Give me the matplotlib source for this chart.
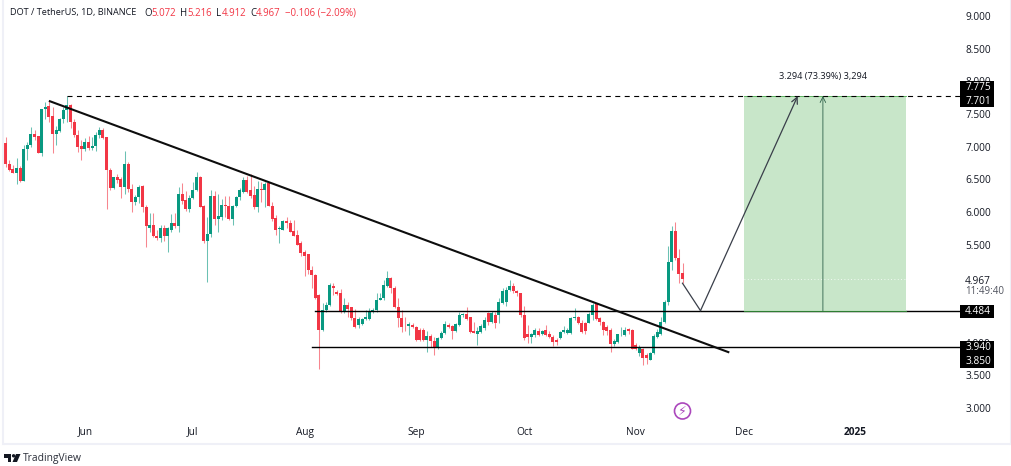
import matplotlib
matplotlib.use("Agg")
import matplotlib.pyplot as plt
import matplotlib.dates as mdates
import matplotlib.patches as mpatches
from matplotlib.transforms import Affine2D
import pandas as pd

# daily candles, first candle 2024-05-10
first_day = "2024-05-10"
opens = [7.05,6.74,6.66,6.60,6.68,6.48,6.96,7.03,7.20,7.16,
         6.91,7.58,7.62,7.47,7.19,7.24,7.43,7.56,7.64,7.37,
         7.18,7.01,6.97,7.07,6.98,7.01,7.18,7.25,7.15,6.65,
         6.37,6.53,6.50,6.38,6.74,6.35,6.16,6.23,6.40,6.08,
         5.76,5.80,5.63,5.60,5.75,5.63,5.72,5.83,5.79,6.28,
         6.18,6.05,6.22,6.33,6.54,6.09,5.55,5.67,6.24,5.90,
         5.93,6.11,6.09,5.89,6.09,6.23,6.31,6.49,6.33,6.26,
         6.08,6.35,6.33,6.44,6.09,5.91,5.74,5.73,5.86,5.83,
         5.71,5.65,5.53,5.39,5.35,5.11,5.03,4.73,4.19,4.50,
         4.58,4.87,4.77,4.755,4.47,4.58,4.54,4.37,4.27,4.28,
         4.36,4.36,4.47,4.50,4.66,4.68,4.86,4.985,4.83,4.55,
         4.37,4.26,4.25,4.27,4.245,4.20,4.20,4.04,4.10,4.025,
         3.93,4.07,4.15,4.27,4.255,4.18,4.27,4.42,4.44,4.39,
         4.18,4.14,4.17,4.23,4.46,4.31,4.42,4.42,4.61,4.63,
         4.805,4.87,4.79,4.765,4.42,4.14,4.09,4.12,4.18,4.13,
         4.195,4.13,4.09,4.04,4.07,4.17,4.15,4.15,4.37,4.40,
         4.305,4.305,4.305,4.42,4.60,4.37,4.32,4.24,4.20,3.98,
         4.01,4.13,4.12,4.21,4.20,3.96,3.84,3.91,3.81,3.74,
         3.84,4.09,4.14,4.32,4.63,5.24,5.71,5.30,5.072]
highs = [7.15,6.80,6.72,6.82,6.70,7.02,7.07,7.30,7.26,7.17,
         7.58,7.68,7.70,7.60,7.32,7.44,7.60,7.775,7.65,7.42,
         7.25,7.10,7.14,7.16,7.15,7.23,7.30,7.28,7.15,6.68,
         6.53,6.58,6.53,6.93,6.76,6.43,6.26,6.42,6.41,6.10,
         5.98,5.98,5.72,5.80,5.80,5.77,5.97,5.98,6.38,6.44,
         6.32,6.26,6.46,6.61,6.55,6.10,5.92,6.33,6.32,6.28,
         6.20,6.25,6.25,6.10,6.25,6.37,6.54,6.55,6.58,6.40,
         6.47,6.46,6.46,6.45,6.15,5.95,5.78,5.88,5.92,5.87,
         5.88,5.72,5.55,5.42,5.36,5.18,5.05,4.75,4.60,4.63,
         4.91,4.92,4.81,4.82,4.68,4.63,4.55,4.52,4.39,4.37,
         4.50,4.525,4.525,4.755,4.755,4.96,5.10,5.01,4.86,4.68,
         4.50,4.40,4.32,4.295,4.255,4.22,4.22,4.18,4.13,4.08,
         4.09,4.18,4.33,4.295,4.27,4.295,4.475,4.46,4.55,4.40,
         4.32,4.245,4.285,4.39,4.475,4.49,4.475,4.68,4.83,4.85,
         4.96,4.92,4.81,4.765,4.56,4.27,4.15,4.22,4.22,4.20,
         4.27,4.18,4.12,4.07,4.18,4.255,4.22,4.40,4.525,4.41,
         4.35,4.32,4.475,4.61,4.61,4.39,4.33,4.27,4.22,4.05,
         4.14,4.24,4.24,4.22,4.21,3.99,3.96,3.92,3.84,3.86,
         4.13,4.21,4.39,4.65,5.48,5.785,5.84,5.43,5.216]
lows = [6.69,6.62,6.60,6.43,6.46,6.47,6.80,7.00,7.10,6.90,
        6.85,7.42,7.38,6.90,7.02,7.22,7.36,7.38,7.28,7.15,
        6.92,6.80,6.93,6.95,6.95,6.94,7.14,7.12,6.05,6.34,
        6.35,6.45,6.22,6.28,6.30,6.00,6.10,6.14,6.00,5.47,
        5.70,5.62,5.57,5.54,5.55,5.39,5.70,5.76,5.70,6.12,
        6.02,6.00,6.20,6.32,6.08,5.53,4.93,5.62,5.80,5.70,
        5.88,5.92,5.88,5.80,6.08,6.19,6.29,6.29,6.22,6.05,
        6.00,6.15,6.08,6.09,5.86,5.65,5.53,5.72,5.75,5.69,
        5.64,5.49,5.33,5.02,5.05,4.83,4.67,3.59,4.18,4.47,
        4.56,4.73,4.73,4.45,4.45,4.40,4.35,4.22,4.22,4.27,
        4.35,4.35,4.45,4.475,4.65,4.66,4.85,4.755,4.525,4.245,
        4.17,4.18,4.11,4.22,4.025,4.025,4.025,3.86,3.94,3.81,
        3.91,4.05,4.13,4.22,4.05,4.17,4.26,4.40,4.35,4.15,
        4.15,3.97,4.15,4.195,4.27,4.295,4.22,4.295,4.59,4.56,
        4.79,4.755,4.71,4.40,4.04,3.99,3.99,4.08,4.10,4.11,
        4.10,4.07,3.95,3.96,4.05,4.15,4.14,4.13,4.35,4.285,
        4.15,4.14,4.295,4.35,4.35,4.27,4.12,4.11,3.85,3.95,
        4.00,4.10,4.10,4.14,3.90,3.89,3.80,3.66,3.67,3.73,
        3.82,4.07,4.12,4.30,4.58,5.11,5.27,4.92,4.912]
closes = [6.74,6.65,6.60,6.67,6.48,6.96,7.03,7.20,7.15,6.91,
          7.58,7.61,7.46,7.19,7.25,7.43,7.56,7.64,7.37,7.18,
          7.00,6.97,7.07,6.98,7.01,7.18,7.25,7.14,6.65,6.36,
          6.53,6.49,6.38,6.74,6.35,6.16,6.23,6.39,6.07,5.78,
          5.80,5.63,5.60,5.75,5.63,5.75,5.83,5.79,6.28,6.17,
          6.05,6.22,6.34,6.53,6.08,5.55,5.67,6.24,5.90,5.94,
          6.11,6.09,5.89,6.09,6.23,6.33,6.49,6.31,6.25,6.08,
          6.35,6.34,6.43,6.09,5.90,5.73,5.76,5.86,5.83,5.70,
          5.64,5.49,5.37,5.33,5.11,5.03,4.68,4.19,4.50,4.58,
          4.88,4.83,4.74,4.47,4.58,4.52,4.37,4.245,4.36,4.36,
          4.39,4.47,4.50,4.66,4.69,4.88,4.985,4.83,4.55,4.37,
          4.245,4.25,4.28,4.245,4.04,4.04,4.04,4.10,4.025,3.94,
          4.07,4.15,4.285,4.245,4.18,4.285,4.42,4.44,4.36,4.17,
          4.15,4.18,4.255,4.34,4.32,4.46,4.295,4.63,4.795,4.805,
          4.87,4.795,4.755,4.42,4.07,4.08,4.13,4.195,4.12,4.18,
          4.12,4.08,4.015,4.01,4.17,4.20,4.195,4.37,4.39,4.295,
          4.17,4.18,4.44,4.575,4.36,4.32,4.19,4.18,3.98,4.03,
          4.13,4.14,4.19,4.18,3.91,3.90,3.94,3.77,3.76,3.84,
          4.10,4.17,4.32,4.63,5.24,5.71,5.29,5.05,4.967]

# drawings on the chart
trend_dates = ["2024-05-22", "2024-11-27"]
trend_prices = [7.701, 3.85]
top_date = "2024-05-27"
line_end = "2025-01-30"
top_price = 7.775
support_price = 4.484
support_start = "2024-08-04"
low_price = 3.94
low_start = "2024-08-03"
box_dates = ["2024-12-01", "2025-01-15"]
box_mid = "2024-12-23"
path_dates = ["2024-11-14", "2024-11-19"]
path_prices = [4.91, 4.49]
path_tip = ("2024-12-16", 7.775)
last_price = 4.967

price_ticks = [3.0, 3.5, 4.0, 4.5, 5.5, 6.0, 6.5, 7.0, 7.5, 8.0, 8.5, 9.0]
month_ticks = ["2024-06-01", "2024-07-01", "2024-08-01", "2024-09-01", "2024-10-01", "2024-11-01", "2024-12-01", "2025-01-01"]
month_names = ["Jun", "Jul", "Aug", "Sep", "Oct", "Nov", "Dec", "2025"]

UP = "#089981"
DOWN = "#f23645"
TXT = "#131722"
FONT = ["Open Sans", "DejaVu Sans"]
plt.rcParams["font.family"] = FONT

fig = plt.figure(figsize=(10.12, 4.66), dpi=100)
# helper: picture pixels, y going down
px = Affine2D().scale(1 / 1012, -1 / 466).translate(0, 1) + fig.transFigure

ax = fig.add_axes([3.5 / 1012, (466 - 444) / 466, (1011 - 3.5) / 1012, 444 / 466])
days = mdates.date2num(pd.date_range(first_day, periods=len(closes)))
day0 = days[0]
ax.set_xlim(day0 + (3.5 - 5.7) / 3.6, day0 + (1011 - 5.7) / 3.6)
ax.set_ylim(3 - 36 / 65.33, 9 + 16 / 65.33)


def d(s):
    return mdates.date2num(pd.Timestamp(s))


# candles
for day, o, h, l, c in zip(days, opens, highs, lows, closes):
    col = UP if c >= o else DOWN
    ax.vlines(day, l, h, color=col, lw=0.75, alpha=0.6, zorder=2)
    ax.bar(day, abs(c - o), bottom=min(o, c), width=0.78, color=col, lw=0, zorder=2.1)

# horizontal levels
ax.plot([d(support_start), d(line_end)], [support_price, support_price], color="black", lw=1.0, zorder=3)
ax.plot([d(low_start), d(line_end)], [low_price, low_price], color="black", lw=1.0, zorder=3)

# projection box
ax.add_patch(mpatches.Rectangle((d(box_dates[0]), support_price), d(box_dates[1]) - d(box_dates[0]),
                                top_price - support_price, facecolor="#c8e6c9", edgecolor="none", zorder=3.2))
ax.plot([d(box_dates[0]), d(box_dates[1])], [support_price, support_price], color="#2e7d32", lw=0.8, zorder=3.3)
ax.plot([d(box_dates[0]), d(box_dates[1])], [top_price, top_price], color="#4caf50", lw=0.6, zorder=3.3)
ax.plot([d(top_date), d(line_end)], [top_price, top_price], color="black", lw=0.8, dashes=(4.5, 4), zorder=3.4)
ax.plot([d(box_dates[0]), d(box_dates[1])], [last_price, last_price], color="white", lw=0.6, ls=(0, (1, 3)), zorder=3.3)
ax.annotate("", xy=(d(box_mid), top_price), xytext=(d(box_mid), support_price),
            arrowprops=dict(arrowstyle="->,head_length=0.4,head_width=0.2", color="#2c5f48", lw=0.6,
                            shrinkA=0, shrinkB=0), zorder=3.5)

# trend line and path
ax.plot([d(x) for x in trend_dates], trend_prices, color="#0d0d0d", lw=1.5, solid_capstyle="butt", zorder=4)
ax.plot([d(x) for x in path_dates], path_prices, color="#3a3f4a", lw=0.9, zorder=4)
ax.annotate("", xy=(d(path_tip[0]), path_tip[1]), xytext=(d(path_dates[1]), path_prices[1]),
            arrowprops=dict(arrowstyle="->,head_length=0.45,head_width=0.22", color="#3a3f4a", lw=0.9,
                            shrinkA=0, shrinkB=0), zorder=4)

# axes
ax.spines["top"].set_visible(False)
for name in ["left", "right", "bottom"]:
    ax.spines[name].set_color("#eff0f7")
    ax.spines[name].set_linewidth(1.5)
ax.yaxis.tick_right()
ax.set_yticks(price_ticks)
ax.set_yticklabels(["%.3f" % p for p in price_ticks], fontsize=7.3, color=TXT, ha="right")
ax.tick_params(axis="y", length=0, pad=-14.4)
ax.set_xticks([d(x) for x in month_ticks])
ax.set_xticklabels(month_names, fontsize=7.3, color=TXT, va="center")
ax.tick_params(axis="x", length=0, pad=-8.6)
ax.get_xticklabels()[-1].set_fontweight("bold")

# price tags on the scale
for y0, y1 in [(81, 107), (305, 318), (341, 368)]:
    ax.add_patch(mpatches.Rectangle((960, y0), 34, y1 - y0, facecolor="black", edgecolor="none",
                                    transform=px, zorder=6, clip_on=False))
tag_labels = ["7.775", "7.701", "4.484", "3.940", "3.850"]
tag_rows = [88, 101, 312, 348, 361]
for lab, row in zip(tag_labels, tag_rows):
    ax.text(991, row, lab, transform=px, color="white", fontsize=7.3, fontweight="medium", ha="right", va="center", zorder=7)
ax.text(991, 281, "%.3f" % last_price, transform=px, color=TXT, fontsize=7.3, ha="right", va="center", zorder=7)
ax.text(1004, 292, "11:49:40", transform=px, color="#50535e", fontsize=7.0, ha="right", va="center", zorder=7)
ax.text(823, 76, "3.294 (73.39%) 3,294", transform=px, color=TXT, fontsize=6.6, ha="center", va="center", zorder=7)

# header
ax.text(10, 13, "DOT / TetherUS, 1D, BINANCE", transform=px, color=TXT, fontsize=6.6, va="center")
head = [(144, "O", TXT), (151, "5.072", DOWN), (180, "H", TXT), (187, "5.216", DOWN), (216, "L", TXT),
        (222, "4.912", DOWN), (250, "C", TXT), (256, "4.967", DOWN), (285, "−0.106 (−2.09%)", DOWN)]
for xp, s, col in head:
    ax.text(xp, 13, s, transform=px, color=col, fontsize=6.9, va="center")

# event icon
ax.add_patch(mpatches.Circle((682.5, 411), 8, facecolor="white", edgecolor="#ab47bc", lw=1.2, transform=px, zorder=6))
ax.text(682.5, 411, "⚡", transform=px, color="#ab47bc", fontsize=9, ha="center", va="center", zorder=7,
        family=["DejaVu Sans"])

# logo
logo = [[(4, 454), (11.5, 454), (11.5, 462), (8, 462), (8, 457.5), (4, 457.5)],
        [(16, 454), (20.5, 454), (17, 462), (12.5, 462)]]
for pts in logo:
    fig.add_artist(mpatches.Polygon(pts, closed=True, facecolor="#131722", edgecolor="none", transform=px))
fig.add_artist(mpatches.Circle((13.6, 455.8), 1.7, facecolor="#131722", edgecolor="none", transform=px))
fig.text(23, 458, "TradingView", transform=px, color="#2a2e39", fontsize=7.4, va="center", ha="left")

fig.savefig("out.png", dpi=100)
